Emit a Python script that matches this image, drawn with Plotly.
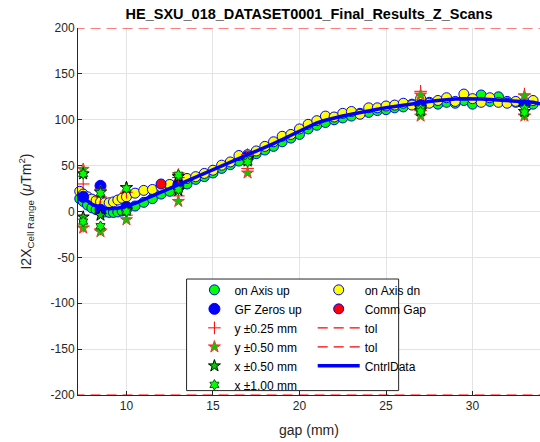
import plotly.graph_objects as go

# ---------------- data ----------------
gaps = [7.3, 7.5, 7.75, 8.0, 8.25, 8.5, 8.75, 9.0, 9.25, 9.5, 9.75, 10.0, 10.5, 11.0, 11.5,
        12.0, 12.5, 13.0, 13.5, 14.0, 14.5, 15.0, 15.5, 16.0, 16.5, 17.0, 17.5, 18.0, 18.5,
        19.0, 19.5, 20.0, 20.5, 21.0, 21.5, 22.0, 22.5, 23.0, 23.5, 24.0, 24.5, 25.0, 25.5,
        26.0, 26.5, 27.0, 27.5, 28.0, 28.5, 29.0, 29.5, 30.0, 30.5, 31.0, 31.5, 32.0, 32.5,
        33.0, 33.5]

on_axis_up = [14, 11, 7, 4, 2, 0.5, -0.5, -1, -1, -0.5, 0.5, 2, 6, 10, 14,
              19, 22, 26, 30, 35, 38, 42, 47, 51, 55, 58, 63, 67, 71,
              76, 80, 84, 90, 94, 97, 100, 102, 104, 107, 108, 110, 111, 113,
              114, 117, 118, 119, 117, 119, 118, 121, 117, 127, 120, 125, 120, 119,
              118, 117]

on_axis_dn = [22, 19, 16, 13.5, 12, 10.5, 9.5, 9.5, 10.5, 12.5, 14.5, 16, 20, 23, 24,
              27, 29.5, 31, 36, 38, 41.5, 45, 50.5, 54, 61, 62, 66, 71, 76,
              82, 84, 90, 95, 99, 104, 103, 107, 109, 106, 113, 113, 115, 116,
              118, 116, 123, 118, 121, 124, 120, 128, 123, 119, 124, 119, 118, 120,
              119, 121]

gf_gap = [7.5, 8.5, 8.5, 10.0, 13.0, 17.0, 27.0, 33.0]
gf_zeros_up = [16, 28, 2, 5, 29, 60, 116, 118]

comm_gap = [12.0]
comm_i2x = [30]

cluster_gap = [7.5, 7.5, 8.5, 8.5, 10.0, 10.0, 13.0, 13.0, 17.0, 17.0, 27.0, 27.0, 33.0, 33.0]
y_025 = [30, -16, 16, -19, 21, -4, 37, 17, 62, 47, 131, 110, 128, 106]
y_050 = [46, -18, 22, -22, 26, -9, 40, 11, 60, 42, 127, 104, 126, 104]
x_050 = [41, -6, 21, -4, 26, 1.5, 38, 23, 58, 55, 113, 110, 113, 109]
x_100 = [41, -11, 20, -16, 25, 0, 40, 24, 57, 54, 112, 109, 112, 108]

tol_gap = [7.0, 35.0]
tol_hi = [200, 200]
tol_lo = [-200, -200]

ctrl_gap = [7.3, 7.5, 7.75, 8.0, 8.25, 8.5, 8.75, 9.0, 9.25, 9.5, 9.75, 10.0, 10.5, 11.0, 11.5,
            12.0, 12.5, 13.0, 13.5, 14.0, 14.5, 15.0, 15.5, 16.0, 16.5, 17.0, 17.5, 18.0, 18.5,
            19.0, 19.5, 20.0, 20.5, 21.0, 21.5, 22.0, 22.5, 23.0, 23.5, 24.0, 24.5, 25.0, 25.5,
            26.0, 26.5, 27.0, 27.5, 28.0, 28.5, 29.0, 29.5, 30.0, 30.5, 31.0, 31.5, 32.0, 32.5,
            33.0, 33.5, 34.0]
ctrl_i2x = [18, 15, 11, 8, 6, 4.5, 3.5, 3, 3, 3.5, 4.5, 6, 9, 13, 17,
            21, 25, 29, 33, 37, 41, 45, 49, 53, 57, 61, 65, 69.5, 74,
            78.5, 83, 88, 92.5, 96.5, 99.5, 102, 104, 106, 108, 110, 111.5, 113, 114.5,
            116, 117.5, 119, 120, 121, 122, 122.5, 123, 123, 122.5, 122, 121.5, 121, 120.5,
            120, 119, 117]

x_ticks = [10, 15, 20, 25, 30]
y_ticks = [-200, -150, -100, -50, 0, 50, 100, 150, 200]
y_tick_labels = ["-200", "-150", "-100", "-50", "0", "50", "100", "150", "200"]

# ---------------- figure ----------------
FONT = "Liberation Sans, Arial, Helvetica, sans-serif"
TXT = "#262626"
EDGE = "#0000ff"

fig = go.Figure()

fig.add_trace(go.Scatter(x=gaps, y=on_axis_up, mode="markers", name="on Axis up", legend="legend",
                         marker=dict(symbol="circle", size=10, color="#00ff00", line=dict(color=EDGE, width=1)),
                         cliponaxis=False))
fig.add_trace(go.Scatter(x=gaps, y=on_axis_dn, mode="markers", name="on Axis dn", legend="legend2",
                         marker=dict(symbol="circle", size=10, color="#ffff00", line=dict(color=EDGE, width=1)),
                         cliponaxis=False))
fig.add_trace(go.Scatter(x=gf_gap, y=gf_zeros_up, mode="markers", name="GF Zeros up", legend="legend",
                         marker=dict(symbol="circle", size=11, color="#0000ff", line=dict(color=EDGE, width=1)),
                         cliponaxis=False))
fig.add_trace(go.Scatter(x=comm_gap, y=comm_i2x, mode="markers", name="Comm Gap", legend="legend2",
                         marker=dict(symbol="circle", size=10, color="#ff0000", line=dict(color=EDGE, width=1)),
                         cliponaxis=False))
fig.add_trace(go.Scatter(x=cluster_gap, y=y_025, mode="markers", name="y ±0.25 mm", legend="legend",
                         marker=dict(symbol="cross-thin", size=9, color="#ff0000", line=dict(color="#ff0000", width=1)),
                         cliponaxis=False))
fig.add_trace(go.Scatter(x=cluster_gap, y=y_050, mode="markers", name="y ±0.50 mm", legend="legend",
                         marker=dict(symbol="star", size=9, color="#00cc00", line=dict(color="#ff3030", width=1)),
                         cliponaxis=False))
fig.add_trace(go.Scatter(x=cluster_gap, y=x_050, mode="markers", name="x ±0.50 mm", legend="legend",
                         marker=dict(symbol="star", size=9, color="#00cc00", line=dict(color="#000000", width=1)),
                         cliponaxis=False))
fig.add_trace(go.Scatter(x=cluster_gap, y=x_100, mode="markers", name="x ±1.00 mm", legend="legend",
                         marker=dict(symbol="hexagram", size=8, color="#00ff00", line=dict(color="#006400", width=1)),
                         cliponaxis=False))
fig.add_trace(go.Scatter(x=tol_gap, y=tol_hi, mode="lines", name="tol", legend="legend2",
                         line=dict(color="#ff0000", width=1.2, dash="10px,6px")))
fig.add_trace(go.Scatter(x=tol_gap, y=tol_lo, mode="lines", name="tol", legend="legend2",
                         line=dict(color="#ff0000", width=1.2, dash="10px,6px")))
fig.add_trace(go.Scatter(x=ctrl_gap, y=ctrl_i2x, mode="lines", name="CntrlData", legend="legend2",
                         line=dict(color="#0000ff", width=3.5)))

# legend frame (white box behind both legend columns)
fig.add_shape(type="rect", xref="paper", yref="paper", x0=0.235, x1=0.694, y0=0.012, y1=0.316,
              line=dict(color="#262626", width=1), fillcolor="white", layer="above")

leg_common = dict(bgcolor="rgba(0,0,0,0)", borderwidth=0, font=dict(family=FONT, size=12, color="#000000"),
                  yanchor="top", xanchor="left", tracegroupgap=0, itemsizing="trace")

fig.update_layout(
    width=540, height=442,
    margin=dict(l=78, r=0, t=28, b=47),
    paper_bgcolor="white", plot_bgcolor="white",
    font=dict(family=FONT, size=12, color=TXT),
    title=dict(text="<b>HE_SXU_018_DATASET0001_Final_Results_Z_Scans</b>",
               x=0.5, xref="paper", xanchor="center", y=1 - 14 / 442, yref="container", yanchor="middle",
               font=dict(family=FONT, size=14.5, color="#000000")),
    legend=dict(x=0.252, y=0.326, **leg_common),
    legend2=dict(x=0.508, y=0.326, itemwidth=42, **leg_common),
    showlegend=True,
)

fig.update_xaxes(range=[7.2, 33.9], tickvals=x_ticks, ticks="inside", ticklen=4, tickcolor=TXT,
                 showgrid=True, gridcolor="#e3e3e3", gridwidth=1, zeroline=False,
                 showline=True, linecolor=TXT, linewidth=1, mirror=False, automargin=False,
                 tickfont=dict(family=FONT, size=12, color=TXT),
                 title=dict(text="gap (mm)", font=dict(family=FONT, size=14, color=TXT), standoff=12))
fig.update_yaxes(range=[-200, 200], tickvals=y_ticks, ticktext=y_tick_labels, ticks="inside", ticklen=4,
                 tickcolor=TXT, showgrid=True, gridcolor="#e3e3e3", gridwidth=1, zeroline=False,
                 showline=True, linecolor=TXT, linewidth=1, mirror=False, automargin=False,
                 tickfont=dict(family=FONT, size=12, color=TXT),
                 title=dict(text="I2X<sub>Cell Range</sub> (<i>μ</i>Tm<sup>2</sup>)",
                            font=dict(family=FONT, size=14, color=TXT), standoff=15))

fig.write_html("out.html", config={"displayModeBar": False},
               post_script="document.body.style.margin='0';")
